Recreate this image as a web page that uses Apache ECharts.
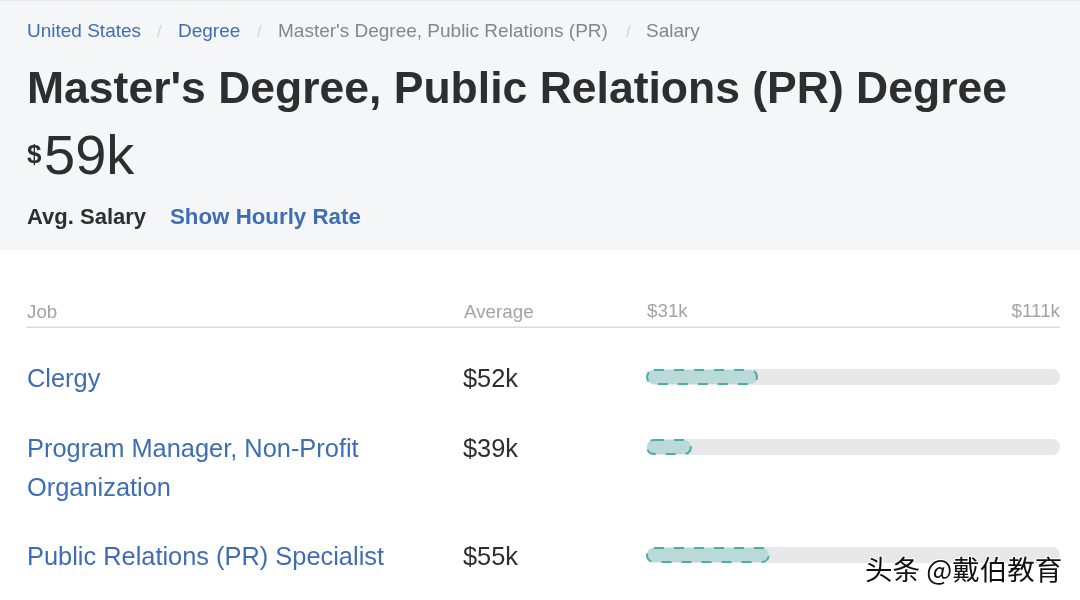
<!DOCTYPE html>
<html>
<head>
<meta charset="utf-8">
<style>html,body{margin:0;padding:0;background:#fff}#c{width:1080px;height:600px}</style>
<script src="https://cdn.jsdelivr.net/npm/echarts@6/dist/echarts.min.js"></script>
</head>
<body>
<div id="c"></div>
<script>
const jobs = ["Clergy", "Program Manager, Non-Profit\nOrganization", "Public Relations (PR) Specialist"];
const averageLabels = ["$52k", "$39k", "$55k"];
const barValues = [52.5, 39.7, 54.8];
const scaleTicks = [31, 111];
const crumbs = ["United States", "Degree", "Master's Degree, Public Relations (PR)", "Salary"];
const titleText = "Master's Degree, Public Relations (PR) Degree";

const FONT = '"Liberation Sans", Arial, sans-serif';
const BLUE = '#3f6db5', DARK = '#2e2e2e', GREY = '#a3a3a8', MID = '#85858b';
const rowCentres = [377, 447, 555];
const crumbX = [27, 178, 278, 646];
const slashX = [157, 257, 626];

const txt = (x, y, text, size, fill, weight, extra) => Object.assign({
  type: 'text', x, y, silent: true,
  style: Object.assign({text, fontSize: size, fill, fontWeight: weight || 'normal', fontFamily: FONT, verticalAlign: 'middle'}, extra || {})
});

const graphic = [
  {type: 'rect', shape: {x: 0, y: 0, width: 1080, height: 250}, style: {fill: '#f5f6f8'}, silent: true},
  {type: 'rect', shape: {x: 0, y: 0, width: 1080, height: 1}, style: {fill: '#e9e9ec'}, silent: true},
  txt(crumbX[0], 32, crumbs[0], 19, BLUE),
  txt(crumbX[1], 32, crumbs[1], 19, BLUE),
  txt(crumbX[2], 32, crumbs[2], 19, MID),
  txt(crumbX[3], 32, crumbs[3], 19, MID),
  ...slashX.map(x => txt(x, 32, '/', 17, '#d4d4d8')),
  txt(27, 91, titleText, 44.5, DARK, 'bold'),
  txt(27, 156, '$', 26, DARK, 'bold'),
  txt(44, 159, '59k', 56, DARK),
  txt(27, 218, 'Avg. Salary', 22, DARK, 'bold'),
  txt(170, 218, 'Show Hourly Rate', 22.3, BLUE, 'bold'),
  txt(27, 313, 'Job', 18.8, GREY),
  txt(464, 313, 'Average', 18.8, GREY),
  {type: 'rect', shape: {x: 26, y: 326.5, width: 1034, height: 1.5}, style: {fill: '#dcdcdf'}, silent: true},
  ...jobs.map((j, i) => txt(27, rowCentres[i] + 3, j.split('\n')[0], 25.4, BLUE)),
  txt(27, 489, jobs[1].split('\n')[1], 25.4, BLUE),
  ...averageLabels.map((a, i) => txt(463, rowCentres[i] + 3, a, 25.4, DARK)),
  {type: 'text', x: 865, y: 570, z: 100, silent: true, style: {
    text: '头条 @戴伯教育', fontSize: 27.5, fontFamily: '"Noto Sans CJK SC"', fill: '#111',
    stroke: '#fff', lineWidth: 2, verticalAlign: 'middle'
  }}
];

const grids = rowCentres.map(c => ({left: 647, width: 413, top: c - 8, height: 16}));
const xAxes = rowCentres.map((c, i) => ({
  gridIndex: i, type: 'value', min: scaleTicks[0], max: scaleTicks[1],
  position: 'top', offset: i === 0 ? 42 : 0, show: i === 0,
  splitLine: {show: false}, axisLine: {show: false}, axisTick: {show: false},
  axisLabel: {
    show: i === 0, customValues: scaleTicks, formatter: v => '$' + v + 'k',
    color: GREY, fontSize: 18.8, fontFamily: FONT, margin: 6,
    alignMinLabel: 'left', alignMaxLabel: 'right'
  }
}));
const yAxes = jobs.map((j, i) => ({
  gridIndex: i, type: 'category', data: [j.replace('\n', ' ')], show: false
}));
const series = barValues.map((v, i) => ({
  type: 'bar', xAxisIndex: i, yAxisIndex: i, data: [v], barWidth: 16, silent: true,
  showBackground: true,
  backgroundStyle: {color: '#e8e8ea', borderRadius: 8},
  itemStyle: {
    color: '#b9dad8', borderColor: '#4fada7', borderWidth: 2,
    borderType: [10, 10], borderRadius: 8
  }
}));

const chart = echarts.init(document.getElementById('c'), null, {renderer: 'canvas'});
chart.setOption({
  animation: false, backgroundColor: '#fff', tooltip: {show: false},
  grid: grids, xAxis: xAxes, yAxis: yAxes, series, graphic
});
</script>
</body>
</html>
